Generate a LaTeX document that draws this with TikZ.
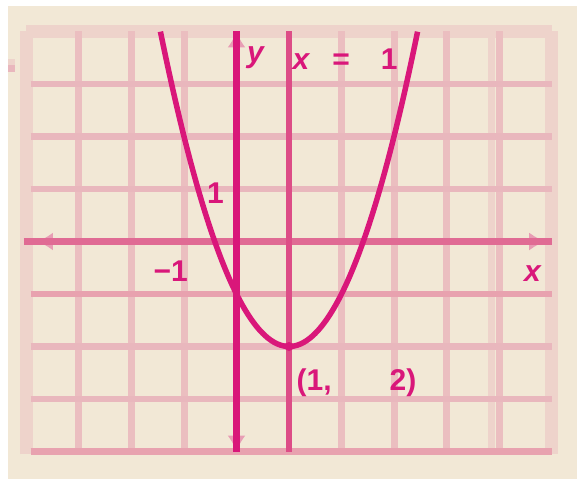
\documentclass[tikz,border=0pt]{standalone}
\usepackage{fontspec}
\setmainfont{Liberation Sans}
\usetikzlibrary{arrows.meta}
\definecolor{cream}{HTML}{F2E8D6}
\definecolor{mag}{HTML}{D9177A}
\definecolor{magmid}{HTML}{DD4D87}
\definecolor{axisxc}{HTML}{E06B94}
\definecolor{gridv}{HTML}{EBBEC0}
\definecolor{gridh}{HTML}{E9B7BD}
\definecolor{framec}{HTML}{EED3CB}
\definecolor{griddark}{HTML}{E8A2AF}
\definecolor{tipc}{HTML}{E89DB4}
\tikzset{
  gridvline/.style={draw=gridv, line width=7pt},
  gridhline/.style={draw=gridh, line width=6.5pt},
  frameline/.style={draw=framec, line width=13pt},
  darkline/.style={draw=griddark, line width=6.5pt},
  yaxisline/.style={draw=mag, line width=7pt},
  symline/.style={draw=magmid, line width=6.5pt},
  xaxisline/.style={draw=axisxc, line width=7pt},
  curveline/.style={draw=mag, line width=5.5pt, line join=round},
  tipline/.style={draw=tipc, line width=2pt, -{Latex[length=16pt,width=18pt]}},
  lbl/.style={text=mag, inner sep=0pt, font=\fontsize{30}{30}\selectfont\bfseries}
}
\begin{document}
\begin{tikzpicture}[x=52.5pt,y=52.5pt]
\useasboundingbox (-236.5pt,-237.5pt) rectangle (340.5pt,241.5pt);
\fill[white] (-236.5pt,-237.5pt) rectangle (340.5pt,241.5pt);
\fill[cream] (-228.5pt,-237.5pt) rectangle (340.5pt,235.5pt);
% small mark at left edge
\fill[gridh] (-228.5pt,169.5pt) rectangle (-221.5pt,176.5pt);
\fill[framec] (-228.5pt,176.5pt) rectangle (-221.5pt,182.5pt);
% frame
\draw[frameline] (-4,4) -- (6,4);
\draw[frameline] (-4,-4.05) -- (-4,4);
\draw[frameline] (6,-4.05) -- (6,4);
% vertical grid
\foreach \i in {-3,-2,-1,2,3,4,5}{
  \draw[gridvline] (\i,-4) -- (\i,4);
}
\draw[draw=framec, line width=7pt] (4.85,-4) -- (4.85,4);
% horizontal grid
\foreach \j in {-3,-2,1,2,3}{
  \draw[gridhline] (-3.92,\j) -- (6,\j);
}
\draw[darkline] (-3.92,-1) -- (6,-1);
\draw[darkline] (-3.92,-4) -- (6,-4);
% x-axis
\coordinate (xl) at (-3.8,0);
\coordinate (xr) at (5.88,0);
\draw[tipline] (-3.2,0) -- (xl);
\draw[tipline] (5.3,0) -- (xr);
\draw[xaxisline] (-4.05,0) -- (6,0);
% y-axis and symmetry line
\coordinate (yt) at (0,4);
\coordinate (yb) at (0,-4);
\draw[tipline] (0,3.4) -- (yt);
\draw[tipline] (0,-3.4) -- (yb);
\draw[yaxisline] (yb) -- (yt);
\coordinate (st) at (1,4);
\coordinate (sb) at (1,-4);
\draw[symline] (sb) -- (st);
% parabola y = (x-1)^2 - 2
\draw[curveline] plot[domain=-1.449:3.449, samples=80, smooth] (\x,{(\x-1)^2-2});
\node[circle, fill=mag, inner sep=0pt, minimum size=9pt] (v) at (1,-2) {};
% labels
\node[lbl, anchor=base] (ylab) at (19.5pt,178.5pt) {\textit{y}};
\node[lbl, anchor=base west] (eq) at (56pt,171.5pt) {\textit{x}\hspace{22pt}=\hspace{31pt}1};
\node[lbl, anchor=base] (one) at (-21pt,38.5pt) {1};
\node[lbl, anchor=base west] (mone) at (-83pt,-39.5pt) {−1};
\node[lbl, anchor=base] (xlab) at (296.5pt,-39.5pt) {\textit{x}};
\node[lbl, anchor=base west] (vlab) at (60pt,-148.5pt) {(1,\hspace{58pt}2)};
\end{tikzpicture}
\end{document}
